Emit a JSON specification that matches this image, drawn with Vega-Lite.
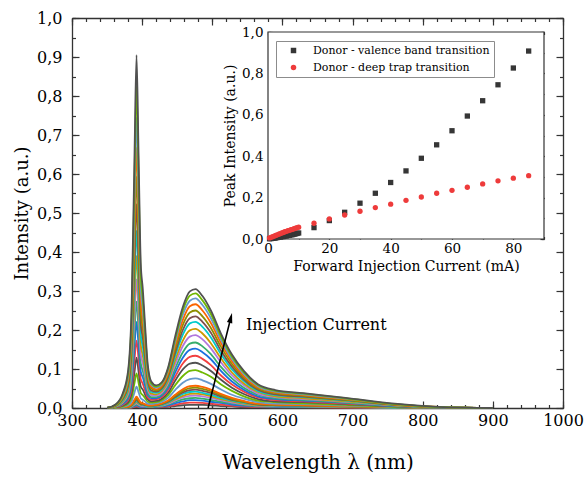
{
"$schema":"https://vega.github.io/schema/vega-lite/v6.json",
"width":491,"height":390,
"autosize":{"type":"none"},
"padding":{"left":72,"top":18,"right":21,"bottom":71},
"background":"white",
"config":{
"locale":{"number":{"decimal":",","thousands":".","grouping":[3],"currency":["",""]}},
"view":{"stroke":null},
"font":"DejaVu Serif",
"axis":{"grid":false,"domainColor":"#333333","tickColor":"#333333","labelColor":"#000000","titleColor":"#000000","labelFont":"DejaVu Serif","titleFont":"DejaVu Serif","titleFontWeight":"normal","zindex":1,"labelFlush":false,"labelOverlap":false,"domainWidth":1.3,"tickWidth":1.2},
"legend":{"labelFont":"DejaVu Serif","strokeColor":"#8c8c8c"}
},
"resolve":{"scale":{"x":"independent","y":"independent","color":"independent","shape":"independent"},"axis":{"x":"independent","y":"independent"},"legend":{"color":"independent","shape":"independent"}},
"datasets":{
"spec":[
{"c":1,"w":350,"v":0},{"c":1,"w":362,"v":0},{"c":1,"w":372,"v":0},{"c":1,"w":380,"v":0},{"c":1,"w":385,"v":0.001},{"c":1,"w":389,"v":0.002},{"c":1,"w":392,"v":0.002},{"c":1,"w":395,"v":0.002},{"c":1,"w":398,"v":0.001},{"c":1,"w":401,"v":0.001},{"c":1,"w":404,"v":0.001},{"c":1,"w":408,"v":0.001},{"c":1,"w":413,"v":0.001},{"c":1,"w":420,"v":0.001},{"c":1,"w":428,"v":0.002},{"c":1,"w":437,"v":0.003},{"c":1,"w":447,"v":0.005},{"c":1,"w":458,"v":0.007},{"c":1,"w":468,"v":0.008},{"c":1,"w":476,"v":0.008},{"c":1,"w":486,"v":0.008},{"c":1,"w":498,"v":0.007},{"c":1,"w":512,"v":0.005},{"c":1,"w":528,"v":0.004},{"c":1,"w":545,"v":0.002},{"c":1,"w":565,"v":0.002},{"c":1,"w":590,"v":0.001},{"c":1,"w":630,"v":0.001},{"c":1,"w":690,"v":0.001},{"c":1,"w":760,"v":0},{"c":1,"w":830,"v":0},{"c":1,"w":900,"v":0},
{"c":2,"w":350,"v":0},{"c":2,"w":362,"v":0},{"c":2,"w":372,"v":0},{"c":2,"w":380,"v":0.001},{"c":2,"w":385,"v":0.001},{"c":2,"w":389,"v":0.003},{"c":2,"w":392,"v":0.004},{"c":2,"w":395,"v":0.003},{"c":2,"w":398,"v":0.002},{"c":2,"w":401,"v":0.002},{"c":2,"w":404,"v":0.002},{"c":2,"w":408,"v":0.002},{"c":2,"w":413,"v":0.002},{"c":2,"w":420,"v":0.002},{"c":2,"w":428,"v":0.003},{"c":2,"w":437,"v":0.005},{"c":2,"w":447,"v":0.008},{"c":2,"w":458,"v":0.012},{"c":2,"w":468,"v":0.014},{"c":2,"w":476,"v":0.014},{"c":2,"w":486,"v":0.013},{"c":2,"w":498,"v":0.011},{"c":2,"w":512,"v":0.009},{"c":2,"w":528,"v":0.006},{"c":2,"w":545,"v":0.004},{"c":2,"w":565,"v":0.003},{"c":2,"w":590,"v":0.002},{"c":2,"w":630,"v":0.002},{"c":2,"w":690,"v":0.001},{"c":2,"w":760,"v":0},{"c":2,"w":830,"v":0},{"c":2,"w":900,"v":0},
{"c":3,"w":350,"v":0},{"c":3,"w":362,"v":0},{"c":3,"w":372,"v":0.001},{"c":3,"w":380,"v":0.001},{"c":3,"w":385,"v":0.002},{"c":3,"w":389,"v":0.005},{"c":3,"w":392,"v":0.007},{"c":3,"w":395,"v":0.005},{"c":3,"w":398,"v":0.003},{"c":3,"w":401,"v":0.003},{"c":3,"w":404,"v":0.003},{"c":3,"w":408,"v":0.002},{"c":3,"w":413,"v":0.002},{"c":3,"w":420,"v":0.003},{"c":3,"w":428,"v":0.004},{"c":3,"w":437,"v":0.007},{"c":3,"w":447,"v":0.012},{"c":3,"w":458,"v":0.017},{"c":3,"w":468,"v":0.02},{"c":3,"w":476,"v":0.02},{"c":3,"w":486,"v":0.019},{"c":3,"w":498,"v":0.016},{"c":3,"w":512,"v":0.013},{"c":3,"w":528,"v":0.009},{"c":3,"w":545,"v":0.006},{"c":3,"w":565,"v":0.004},{"c":3,"w":590,"v":0.003},{"c":3,"w":630,"v":0.003},{"c":3,"w":690,"v":0.002},{"c":3,"w":760,"v":0.001},{"c":3,"w":830,"v":0},{"c":3,"w":900,"v":0},
{"c":4,"w":350,"v":0},{"c":4,"w":362,"v":0},{"c":4,"w":372,"v":0.001},{"c":4,"w":380,"v":0.001},{"c":4,"w":385,"v":0.003},{"c":4,"w":389,"v":0.007},{"c":4,"w":392,"v":0.009},{"c":4,"w":395,"v":0.007},{"c":4,"w":398,"v":0.005},{"c":4,"w":401,"v":0.004},{"c":4,"w":404,"v":0.004},{"c":4,"w":408,"v":0.003},{"c":4,"w":413,"v":0.003},{"c":4,"w":420,"v":0.004},{"c":4,"w":428,"v":0.005},{"c":4,"w":437,"v":0.009},{"c":4,"w":447,"v":0.016},{"c":4,"w":458,"v":0.022},{"c":4,"w":468,"v":0.025},{"c":4,"w":476,"v":0.026},{"c":4,"w":486,"v":0.024},{"c":4,"w":498,"v":0.021},{"c":4,"w":512,"v":0.016},{"c":4,"w":528,"v":0.012},{"c":4,"w":545,"v":0.008},{"c":4,"w":565,"v":0.005},{"c":4,"w":590,"v":0.004},{"c":4,"w":630,"v":0.003},{"c":4,"w":690,"v":0.002},{"c":4,"w":760,"v":0.001},{"c":4,"w":830,"v":0},{"c":4,"w":900,"v":0},
{"c":5,"w":350,"v":0},{"c":5,"w":362,"v":0},{"c":5,"w":372,"v":0.001},{"c":5,"w":380,"v":0.002},{"c":5,"w":385,"v":0.004},{"c":5,"w":389,"v":0.009},{"c":5,"w":392,"v":0.012},{"c":5,"w":395,"v":0.009},{"c":5,"w":398,"v":0.006},{"c":5,"w":401,"v":0.005},{"c":5,"w":404,"v":0.005},{"c":5,"w":408,"v":0.004},{"c":5,"w":413,"v":0.004},{"c":5,"w":420,"v":0.005},{"c":5,"w":428,"v":0.006},{"c":5,"w":437,"v":0.011},{"c":5,"w":447,"v":0.019},{"c":5,"w":458,"v":0.027},{"c":5,"w":468,"v":0.031},{"c":5,"w":476,"v":0.032},{"c":5,"w":486,"v":0.03},{"c":5,"w":498,"v":0.026},{"c":5,"w":512,"v":0.02},{"c":5,"w":528,"v":0.014},{"c":5,"w":545,"v":0.01},{"c":5,"w":565,"v":0.006},{"c":5,"w":590,"v":0.005},{"c":5,"w":630,"v":0.004},{"c":5,"w":690,"v":0.003},{"c":5,"w":760,"v":0.001},{"c":5,"w":830,"v":0},{"c":5,"w":900,"v":0},
{"c":6,"w":350,"v":0},{"c":6,"w":362,"v":0},{"c":6,"w":372,"v":0.001},{"c":6,"w":380,"v":0.002},{"c":6,"w":385,"v":0.005},{"c":6,"w":389,"v":0.011},{"c":6,"w":392,"v":0.015},{"c":6,"w":395,"v":0.011},{"c":6,"w":398,"v":0.008},{"c":6,"w":401,"v":0.007},{"c":6,"w":404,"v":0.006},{"c":6,"w":408,"v":0.004},{"c":6,"w":413,"v":0.004},{"c":6,"w":420,"v":0.005},{"c":6,"w":428,"v":0.007},{"c":6,"w":437,"v":0.013},{"c":6,"w":447,"v":0.022},{"c":6,"w":458,"v":0.031},{"c":6,"w":468,"v":0.036},{"c":6,"w":476,"v":0.037},{"c":6,"w":486,"v":0.035},{"c":6,"w":498,"v":0.03},{"c":6,"w":512,"v":0.023},{"c":6,"w":528,"v":0.017},{"c":6,"w":545,"v":0.011},{"c":6,"w":565,"v":0.007},{"c":6,"w":590,"v":0.006},{"c":6,"w":630,"v":0.005},{"c":6,"w":690,"v":0.003},{"c":6,"w":760,"v":0.001},{"c":6,"w":830,"v":0},{"c":6,"w":900,"v":0},
{"c":7,"w":350,"v":0},{"c":7,"w":362,"v":0},{"c":7,"w":372,"v":0.001},{"c":7,"w":380,"v":0.003},{"c":7,"w":385,"v":0.006},{"c":7,"w":389,"v":0.013},{"c":7,"w":392,"v":0.018},{"c":7,"w":395,"v":0.013},{"c":7,"w":398,"v":0.009},{"c":7,"w":401,"v":0.008},{"c":7,"w":404,"v":0.006},{"c":7,"w":408,"v":0.005},{"c":7,"w":413,"v":0.005},{"c":7,"w":420,"v":0.006},{"c":7,"w":428,"v":0.008},{"c":7,"w":437,"v":0.014},{"c":7,"w":447,"v":0.025},{"c":7,"w":458,"v":0.036},{"c":7,"w":468,"v":0.041},{"c":7,"w":476,"v":0.042},{"c":7,"w":486,"v":0.039},{"c":7,"w":498,"v":0.034},{"c":7,"w":512,"v":0.026},{"c":7,"w":528,"v":0.019},{"c":7,"w":545,"v":0.013},{"c":7,"w":565,"v":0.008},{"c":7,"w":590,"v":0.006},{"c":7,"w":630,"v":0.005},{"c":7,"w":690,"v":0.004},{"c":7,"w":760,"v":0.001},{"c":7,"w":830,"v":0},{"c":7,"w":900,"v":0},
{"c":8,"w":350,"v":0},{"c":8,"w":362,"v":0.001},{"c":8,"w":372,"v":0.001},{"c":8,"w":380,"v":0.003},{"c":8,"w":385,"v":0.007},{"c":8,"w":389,"v":0.015},{"c":8,"w":392,"v":0.021},{"c":8,"w":395,"v":0.015},{"c":8,"w":398,"v":0.01},{"c":8,"w":401,"v":0.009},{"c":8,"w":404,"v":0.008},{"c":8,"w":408,"v":0.006},{"c":8,"w":413,"v":0.006},{"c":8,"w":420,"v":0.007},{"c":8,"w":428,"v":0.01},{"c":8,"w":437,"v":0.016},{"c":8,"w":447,"v":0.028},{"c":8,"w":458,"v":0.04},{"c":8,"w":468,"v":0.046},{"c":8,"w":476,"v":0.047},{"c":8,"w":486,"v":0.044},{"c":8,"w":498,"v":0.039},{"c":8,"w":512,"v":0.03},{"c":8,"w":528,"v":0.021},{"c":8,"w":545,"v":0.015},{"c":8,"w":565,"v":0.009},{"c":8,"w":590,"v":0.007},{"c":8,"w":630,"v":0.006},{"c":8,"w":690,"v":0.004},{"c":8,"w":760,"v":0.002},{"c":8,"w":830,"v":0},{"c":8,"w":900,"v":0},
{"c":9,"w":350,"v":0},{"c":9,"w":362,"v":0.001},{"c":9,"w":372,"v":0.002},{"c":9,"w":380,"v":0.003},{"c":9,"w":385,"v":0.008},{"c":9,"w":389,"v":0.018},{"c":9,"w":392,"v":0.025},{"c":9,"w":395,"v":0.018},{"c":9,"w":398,"v":0.012},{"c":9,"w":401,"v":0.011},{"c":9,"w":404,"v":0.009},{"c":9,"w":408,"v":0.007},{"c":9,"w":413,"v":0.006},{"c":9,"w":420,"v":0.008},{"c":9,"w":428,"v":0.011},{"c":9,"w":437,"v":0.018},{"c":9,"w":447,"v":0.031},{"c":9,"w":458,"v":0.044},{"c":9,"w":468,"v":0.051},{"c":9,"w":476,"v":0.052},{"c":9,"w":486,"v":0.049},{"c":9,"w":498,"v":0.043},{"c":9,"w":512,"v":0.033},{"c":9,"w":528,"v":0.023},{"c":9,"w":545,"v":0.016},{"c":9,"w":565,"v":0.01},{"c":9,"w":590,"v":0.008},{"c":9,"w":630,"v":0.007},{"c":9,"w":690,"v":0.004},{"c":9,"w":760,"v":0.002},{"c":9,"w":830,"v":0},{"c":9,"w":900,"v":0},
{"c":10,"w":350,"v":0},{"c":10,"w":362,"v":0.001},{"c":10,"w":372,"v":0.002},{"c":10,"w":380,"v":0.004},{"c":10,"w":385,"v":0.009},{"c":10,"w":389,"v":0.021},{"c":10,"w":392,"v":0.029},{"c":10,"w":395,"v":0.022},{"c":10,"w":398,"v":0.014},{"c":10,"w":401,"v":0.012},{"c":10,"w":404,"v":0.01},{"c":10,"w":408,"v":0.007},{"c":10,"w":413,"v":0.007},{"c":10,"w":420,"v":0.008},{"c":10,"w":428,"v":0.012},{"c":10,"w":437,"v":0.019},{"c":10,"w":447,"v":0.034},{"c":10,"w":458,"v":0.048},{"c":10,"w":468,"v":0.056},{"c":10,"w":476,"v":0.057},{"c":10,"w":486,"v":0.054},{"c":10,"w":498,"v":0.047},{"c":10,"w":512,"v":0.036},{"c":10,"w":528,"v":0.026},{"c":10,"w":545,"v":0.018},{"c":10,"w":565,"v":0.011},{"c":10,"w":590,"v":0.009},{"c":10,"w":630,"v":0.007},{"c":10,"w":690,"v":0.005},{"c":10,"w":760,"v":0.002},{"c":10,"w":830,"v":0},{"c":10,"w":900,"v":0},
{"c":15,"w":350,"v":0},{"c":15,"w":362,"v":0.001},{"c":15,"w":372,"v":0.003},{"c":15,"w":380,"v":0.007},{"c":15,"w":385,"v":0.017},{"c":15,"w":389,"v":0.039},{"c":15,"w":392,"v":0.055},{"c":15,"w":395,"v":0.04},{"c":15,"w":398,"v":0.025},{"c":15,"w":401,"v":0.021},{"c":15,"w":404,"v":0.017},{"c":15,"w":408,"v":0.011},{"c":15,"w":413,"v":0.01},{"c":15,"w":420,"v":0.012},{"c":15,"w":428,"v":0.016},{"c":15,"w":437,"v":0.026},{"c":15,"w":447,"v":0.046},{"c":15,"w":458,"v":0.065},{"c":15,"w":468,"v":0.074},{"c":15,"w":476,"v":0.076},{"c":15,"w":486,"v":0.071},{"c":15,"w":498,"v":0.062},{"c":15,"w":512,"v":0.048},{"c":15,"w":528,"v":0.034},{"c":15,"w":545,"v":0.024},{"c":15,"w":565,"v":0.015},{"c":15,"w":590,"v":0.011},{"c":15,"w":630,"v":0.01},{"c":15,"w":690,"v":0.006},{"c":15,"w":760,"v":0.003},{"c":15,"w":830,"v":0},{"c":15,"w":900,"v":0},
{"c":20,"w":350,"v":0},{"c":20,"w":362,"v":0.001},{"c":20,"w":372,"v":0.004},{"c":20,"w":380,"v":0.011},{"c":20,"w":385,"v":0.026},{"c":20,"w":389,"v":0.063},{"c":20,"w":392,"v":0.089},{"c":20,"w":395,"v":0.064},{"c":20,"w":398,"v":0.039},{"c":20,"w":401,"v":0.033},{"c":20,"w":404,"v":0.026},{"c":20,"w":408,"v":0.016},{"c":20,"w":413,"v":0.014},{"c":20,"w":420,"v":0.015},{"c":20,"w":428,"v":0.02},{"c":20,"w":437,"v":0.033},{"c":20,"w":447,"v":0.058},{"c":20,"w":458,"v":0.082},{"c":20,"w":468,"v":0.095},{"c":20,"w":476,"v":0.097},{"c":20,"w":486,"v":0.091},{"c":20,"w":498,"v":0.08},{"c":20,"w":512,"v":0.061},{"c":20,"w":528,"v":0.044},{"c":20,"w":545,"v":0.03},{"c":20,"w":565,"v":0.019},{"c":20,"w":590,"v":0.015},{"c":20,"w":630,"v":0.012},{"c":20,"w":690,"v":0.008},{"c":20,"w":760,"v":0.003},{"c":20,"w":830,"v":0.001},{"c":20,"w":900,"v":0},
{"c":25,"w":350,"v":0},{"c":25,"w":362,"v":0.002},{"c":25,"w":372,"v":0.006},{"c":25,"w":380,"v":0.015},{"c":25,"w":385,"v":0.038},{"c":25,"w":389,"v":0.091},{"c":25,"w":392,"v":0.129},{"c":25,"w":395,"v":0.092},{"c":25,"w":398,"v":0.055},{"c":25,"w":401,"v":0.047},{"c":25,"w":404,"v":0.035},{"c":25,"w":408,"v":0.022},{"c":25,"w":413,"v":0.017},{"c":25,"w":420,"v":0.018},{"c":25,"w":428,"v":0.024},{"c":25,"w":437,"v":0.039},{"c":25,"w":447,"v":0.07},{"c":25,"w":458,"v":0.099},{"c":25,"w":468,"v":0.114},{"c":25,"w":476,"v":0.116},{"c":25,"w":486,"v":0.109},{"c":25,"w":498,"v":0.095},{"c":25,"w":512,"v":0.073},{"c":25,"w":528,"v":0.052},{"c":25,"w":545,"v":0.036},{"c":25,"w":565,"v":0.023},{"c":25,"w":590,"v":0.017},{"c":25,"w":630,"v":0.015},{"c":25,"w":690,"v":0.01},{"c":25,"w":760,"v":0.004},{"c":25,"w":830,"v":0.001},{"c":25,"w":900,"v":0},
{"c":30,"w":350,"v":0},{"c":30,"w":362,"v":0.002},{"c":30,"w":372,"v":0.008},{"c":30,"w":380,"v":0.02},{"c":30,"w":385,"v":0.051},{"c":30,"w":389,"v":0.122},{"c":30,"w":392,"v":0.173},{"c":30,"w":395,"v":0.124},{"c":30,"w":398,"v":0.074},{"c":30,"w":401,"v":0.062},{"c":30,"w":404,"v":0.046},{"c":30,"w":408,"v":0.027},{"c":30,"w":413,"v":0.021},{"c":30,"w":420,"v":0.022},{"c":30,"w":428,"v":0.028},{"c":30,"w":437,"v":0.046},{"c":30,"w":447,"v":0.08},{"c":30,"w":458,"v":0.114},{"c":30,"w":468,"v":0.131},{"c":30,"w":476,"v":0.134},{"c":30,"w":486,"v":0.126},{"c":30,"w":498,"v":0.11},{"c":30,"w":512,"v":0.084},{"c":30,"w":528,"v":0.06},{"c":30,"w":545,"v":0.042},{"c":30,"w":565,"v":0.027},{"c":30,"w":590,"v":0.02},{"c":30,"w":630,"v":0.017},{"c":30,"w":690,"v":0.011},{"c":30,"w":760,"v":0.005},{"c":30,"w":830,"v":0.001},{"c":30,"w":900,"v":0},
{"c":35,"w":350,"v":0},{"c":35,"w":362,"v":0.003},{"c":35,"w":372,"v":0.01},{"c":35,"w":380,"v":0.025},{"c":35,"w":385,"v":0.064},{"c":35,"w":389,"v":0.156},{"c":35,"w":392,"v":0.221},{"c":35,"w":395,"v":0.157},{"c":35,"w":398,"v":0.094},{"c":35,"w":401,"v":0.078},{"c":35,"w":404,"v":0.058},{"c":35,"w":408,"v":0.033},{"c":35,"w":413,"v":0.025},{"c":35,"w":420,"v":0.025},{"c":35,"w":428,"v":0.032},{"c":35,"w":437,"v":0.052},{"c":35,"w":447,"v":0.091},{"c":35,"w":458,"v":0.129},{"c":35,"w":468,"v":0.149},{"c":35,"w":476,"v":0.152},{"c":35,"w":486,"v":0.143},{"c":35,"w":498,"v":0.125},{"c":35,"w":512,"v":0.096},{"c":35,"w":528,"v":0.068},{"c":35,"w":545,"v":0.047},{"c":35,"w":565,"v":0.03},{"c":35,"w":590,"v":0.023},{"c":35,"w":630,"v":0.019},{"c":35,"w":690,"v":0.013},{"c":35,"w":760,"v":0.005},{"c":35,"w":830,"v":0.001},{"c":35,"w":900,"v":0},
{"c":40,"w":350,"v":0},{"c":40,"w":362,"v":0.003},{"c":40,"w":372,"v":0.012},{"c":40,"w":380,"v":0.03},{"c":40,"w":385,"v":0.079},{"c":40,"w":389,"v":0.192},{"c":40,"w":392,"v":0.273},{"c":40,"w":395,"v":0.194},{"c":40,"w":398,"v":0.115},{"c":40,"w":401,"v":0.095},{"c":40,"w":404,"v":0.07},{"c":40,"w":408,"v":0.04},{"c":40,"w":413,"v":0.028},{"c":40,"w":420,"v":0.028},{"c":40,"w":428,"v":0.035},{"c":40,"w":437,"v":0.057},{"c":40,"w":447,"v":0.101},{"c":40,"w":458,"v":0.143},{"c":40,"w":468,"v":0.165},{"c":40,"w":476,"v":0.168},{"c":40,"w":486,"v":0.158},{"c":40,"w":498,"v":0.138},{"c":40,"w":512,"v":0.106},{"c":40,"w":528,"v":0.076},{"c":40,"w":545,"v":0.052},{"c":40,"w":565,"v":0.034},{"c":40,"w":590,"v":0.025},{"c":40,"w":630,"v":0.021},{"c":40,"w":690,"v":0.014},{"c":40,"w":760,"v":0.006},{"c":40,"w":830,"v":0.001},{"c":40,"w":900,"v":0},
{"c":45,"w":350,"v":0},{"c":45,"w":362,"v":0.004},{"c":45,"w":372,"v":0.014},{"c":45,"w":380,"v":0.036},{"c":45,"w":385,"v":0.095},{"c":45,"w":389,"v":0.232},{"c":45,"w":392,"v":0.33},{"c":45,"w":395,"v":0.234},{"c":45,"w":398,"v":0.138},{"c":45,"w":401,"v":0.114},{"c":45,"w":404,"v":0.084},{"c":45,"w":408,"v":0.047},{"c":45,"w":413,"v":0.033},{"c":45,"w":420,"v":0.032},{"c":45,"w":428,"v":0.039},{"c":45,"w":437,"v":0.064},{"c":45,"w":447,"v":0.112},{"c":45,"w":458,"v":0.159},{"c":45,"w":468,"v":0.183},{"c":45,"w":476,"v":0.187},{"c":45,"w":486,"v":0.176},{"c":45,"w":498,"v":0.153},{"c":45,"w":512,"v":0.118},{"c":45,"w":528,"v":0.084},{"c":45,"w":545,"v":0.058},{"c":45,"w":565,"v":0.037},{"c":45,"w":590,"v":0.028},{"c":45,"w":630,"v":0.023},{"c":45,"w":690,"v":0.016},{"c":45,"w":760,"v":0.007},{"c":45,"w":830,"v":0.001},{"c":45,"w":900,"v":0},
{"c":50,"w":350,"v":0},{"c":50,"w":362,"v":0.004},{"c":50,"w":372,"v":0.016},{"c":50,"w":380,"v":0.043},{"c":50,"w":385,"v":0.113},{"c":50,"w":389,"v":0.275},{"c":50,"w":392,"v":0.39},{"c":50,"w":395,"v":0.277},{"c":50,"w":398,"v":0.163},{"c":50,"w":401,"v":0.134},{"c":50,"w":404,"v":0.098},{"c":50,"w":408,"v":0.054},{"c":50,"w":413,"v":0.037},{"c":50,"w":420,"v":0.035},{"c":50,"w":428,"v":0.043},{"c":50,"w":437,"v":0.069},{"c":50,"w":447,"v":0.122},{"c":50,"w":458,"v":0.173},{"c":50,"w":468,"v":0.199},{"c":50,"w":476,"v":0.203},{"c":50,"w":486,"v":0.191},{"c":50,"w":498,"v":0.166},{"c":50,"w":512,"v":0.128},{"c":50,"w":528,"v":0.091},{"c":50,"w":545,"v":0.063},{"c":50,"w":565,"v":0.041},{"c":50,"w":590,"v":0.03},{"c":50,"w":630,"v":0.025},{"c":50,"w":690,"v":0.017},{"c":50,"w":760,"v":0.007},{"c":50,"w":830,"v":0.001},{"c":50,"w":900,"v":0},
{"c":55,"w":350,"v":0},{"c":55,"w":362,"v":0.005},{"c":55,"w":372,"v":0.019},{"c":55,"w":380,"v":0.05},{"c":55,"w":385,"v":0.131},{"c":55,"w":389,"v":0.32},{"c":55,"w":392,"v":0.455},{"c":55,"w":395,"v":0.322},{"c":55,"w":398,"v":0.189},{"c":55,"w":401,"v":0.156},{"c":55,"w":404,"v":0.114},{"c":55,"w":408,"v":0.061},{"c":55,"w":413,"v":0.041},{"c":55,"w":420,"v":0.039},{"c":55,"w":428,"v":0.047},{"c":55,"w":437,"v":0.075},{"c":55,"w":447,"v":0.133},{"c":55,"w":458,"v":0.188},{"c":55,"w":468,"v":0.217},{"c":55,"w":476,"v":0.221},{"c":55,"w":486,"v":0.208},{"c":55,"w":498,"v":0.181},{"c":55,"w":512,"v":0.139},{"c":55,"w":528,"v":0.099},{"c":55,"w":545,"v":0.069},{"c":55,"w":565,"v":0.044},{"c":55,"w":590,"v":0.033},{"c":55,"w":630,"v":0.028},{"c":55,"w":690,"v":0.019},{"c":55,"w":760,"v":0.008},{"c":55,"w":830,"v":0.001},{"c":55,"w":900,"v":0},
{"c":60,"w":350,"v":0},{"c":60,"w":362,"v":0.006},{"c":60,"w":372,"v":0.022},{"c":60,"w":380,"v":0.057},{"c":60,"w":385,"v":0.151},{"c":60,"w":389,"v":0.368},{"c":60,"w":392,"v":0.523},{"c":60,"w":395,"v":0.37},{"c":60,"w":398,"v":0.217},{"c":60,"w":401,"v":0.179},{"c":60,"w":404,"v":0.13},{"c":60,"w":408,"v":0.069},{"c":60,"w":413,"v":0.045},{"c":60,"w":420,"v":0.042},{"c":60,"w":428,"v":0.05},{"c":60,"w":437,"v":0.08},{"c":60,"w":447,"v":0.141},{"c":60,"w":458,"v":0.2},{"c":60,"w":468,"v":0.23},{"c":60,"w":476,"v":0.235},{"c":60,"w":486,"v":0.221},{"c":60,"w":498,"v":0.193},{"c":60,"w":512,"v":0.148},{"c":60,"w":528,"v":0.106},{"c":60,"w":545,"v":0.073},{"c":60,"w":565,"v":0.047},{"c":60,"w":590,"v":0.035},{"c":60,"w":630,"v":0.029},{"c":60,"w":690,"v":0.02},{"c":60,"w":760,"v":0.008},{"c":60,"w":830,"v":0.001},{"c":60,"w":900,"v":0},
{"c":65,"w":350,"v":0},{"c":65,"w":362,"v":0.006},{"c":65,"w":372,"v":0.024},{"c":65,"w":380,"v":0.064},{"c":65,"w":385,"v":0.171},{"c":65,"w":389,"v":0.418},{"c":65,"w":392,"v":0.594},{"c":65,"w":395,"v":0.42},{"c":65,"w":398,"v":0.246},{"c":65,"w":401,"v":0.202},{"c":65,"w":404,"v":0.146},{"c":65,"w":408,"v":0.077},{"c":65,"w":413,"v":0.05},{"c":65,"w":420,"v":0.045},{"c":65,"w":428,"v":0.054},{"c":65,"w":437,"v":0.085},{"c":65,"w":447,"v":0.15},{"c":65,"w":458,"v":0.213},{"c":65,"w":468,"v":0.245},{"c":65,"w":476,"v":0.25},{"c":65,"w":486,"v":0.235},{"c":65,"w":498,"v":0.205},{"c":65,"w":512,"v":0.158},{"c":65,"w":528,"v":0.113},{"c":65,"w":545,"v":0.078},{"c":65,"w":565,"v":0.05},{"c":65,"w":590,"v":0.038},{"c":65,"w":630,"v":0.031},{"c":65,"w":690,"v":0.021},{"c":65,"w":760,"v":0.009},{"c":65,"w":830,"v":0.002},{"c":65,"w":900,"v":0},
{"c":70,"w":350,"v":0},{"c":70,"w":362,"v":0.007},{"c":70,"w":372,"v":0.027},{"c":70,"w":380,"v":0.072},{"c":70,"w":385,"v":0.191},{"c":70,"w":389,"v":0.469},{"c":70,"w":392,"v":0.668},{"c":70,"w":395,"v":0.472},{"c":70,"w":398,"v":0.276},{"c":70,"w":401,"v":0.226},{"c":70,"w":404,"v":0.163},{"c":70,"w":408,"v":0.085},{"c":70,"w":413,"v":0.054},{"c":70,"w":420,"v":0.048},{"c":70,"w":428,"v":0.057},{"c":70,"w":437,"v":0.09},{"c":70,"w":447,"v":0.16},{"c":70,"w":458,"v":0.226},{"c":70,"w":468,"v":0.261},{"c":70,"w":476,"v":0.266},{"c":70,"w":486,"v":0.25},{"c":70,"w":498,"v":0.218},{"c":70,"w":512,"v":0.168},{"c":70,"w":528,"v":0.12},{"c":70,"w":545,"v":0.082},{"c":70,"w":565,"v":0.053},{"c":70,"w":590,"v":0.04},{"c":70,"w":630,"v":0.033},{"c":70,"w":690,"v":0.023},{"c":70,"w":760,"v":0.009},{"c":70,"w":830,"v":0.002},{"c":70,"w":900,"v":0},
{"c":75,"w":350,"v":0},{"c":75,"w":362,"v":0.008},{"c":75,"w":372,"v":0.03},{"c":75,"w":380,"v":0.08},{"c":75,"w":385,"v":0.213},{"c":75,"w":389,"v":0.524},{"c":75,"w":392,"v":0.745},{"c":75,"w":395,"v":0.526},{"c":75,"w":398,"v":0.308},{"c":75,"w":401,"v":0.252},{"c":75,"w":404,"v":0.181},{"c":75,"w":408,"v":0.094},{"c":75,"w":413,"v":0.059},{"c":75,"w":420,"v":0.052},{"c":75,"w":428,"v":0.061},{"c":75,"w":437,"v":0.096},{"c":75,"w":447,"v":0.169},{"c":75,"w":458,"v":0.239},{"c":75,"w":468,"v":0.275},{"c":75,"w":476,"v":0.281},{"c":75,"w":486,"v":0.264},{"c":75,"w":498,"v":0.23},{"c":75,"w":512,"v":0.177},{"c":75,"w":528,"v":0.126},{"c":75,"w":545,"v":0.087},{"c":75,"w":565,"v":0.056},{"c":75,"w":590,"v":0.042},{"c":75,"w":630,"v":0.035},{"c":75,"w":690,"v":0.024},{"c":75,"w":760,"v":0.01},{"c":75,"w":830,"v":0.002},{"c":75,"w":900,"v":0},
{"c":80,"w":350,"v":0},{"c":80,"w":362,"v":0.008},{"c":80,"w":372,"v":0.033},{"c":80,"w":380,"v":0.088},{"c":80,"w":385,"v":0.236},{"c":80,"w":389,"v":0.58},{"c":80,"w":392,"v":0.826},{"c":80,"w":395,"v":0.583},{"c":80,"w":398,"v":0.34},{"c":80,"w":401,"v":0.278},{"c":80,"w":404,"v":0.2},{"c":80,"w":408,"v":0.102},{"c":80,"w":413,"v":0.063},{"c":80,"w":420,"v":0.055},{"c":80,"w":428,"v":0.064},{"c":80,"w":437,"v":0.1},{"c":80,"w":447,"v":0.176},{"c":80,"w":458,"v":0.25},{"c":80,"w":468,"v":0.288},{"c":80,"w":476,"v":0.294},{"c":80,"w":486,"v":0.276},{"c":80,"w":498,"v":0.241},{"c":80,"w":512,"v":0.185},{"c":80,"w":528,"v":0.132},{"c":80,"w":545,"v":0.091},{"c":80,"w":565,"v":0.059},{"c":80,"w":590,"v":0.044},{"c":80,"w":630,"v":0.037},{"c":80,"w":690,"v":0.025},{"c":80,"w":760,"v":0.01},{"c":80,"w":830,"v":0.002},{"c":80,"w":900,"v":0},
{"c":85,"w":350,"v":0},{"c":85,"w":362,"v":0.009},{"c":85,"w":372,"v":0.036},{"c":85,"w":380,"v":0.096},{"c":85,"w":385,"v":0.259},{"c":85,"w":389,"v":0.636},{"c":85,"w":392,"v":0.905},{"c":85,"w":395,"v":0.639},{"c":85,"w":398,"v":0.372},{"c":85,"w":401,"v":0.304},{"c":85,"w":404,"v":0.218},{"c":85,"w":408,"v":0.111},{"c":85,"w":413,"v":0.068},{"c":85,"w":420,"v":0.058},{"c":85,"w":428,"v":0.066},{"c":85,"w":437,"v":0.104},{"c":85,"w":447,"v":0.183},{"c":85,"w":458,"v":0.259},{"c":85,"w":468,"v":0.299},{"c":85,"w":476,"v":0.305},{"c":85,"w":486,"v":0.287},{"c":85,"w":498,"v":0.25},{"c":85,"w":512,"v":0.192},{"c":85,"w":528,"v":0.137},{"c":85,"w":545,"v":0.095},{"c":85,"w":565,"v":0.061},{"c":85,"w":590,"v":0.046},{"c":85,"w":630,"v":0.038},{"c":85,"w":690,"v":0.026},{"c":85,"w":760,"v":0.011},{"c":85,"w":830,"v":0.002},{"c":85,"w":900,"v":0}
],
"peak":[
{"i":0.5,"p":0.001,"s":"Donor - valence band transition"},{"i":1,"p":0.002,"s":"Donor - valence band transition"},{"i":1.5,"p":0.003,"s":"Donor - valence band transition"},{"i":2,"p":0.004,"s":"Donor - valence band transition"},{"i":2.5,"p":0.005,"s":"Donor - valence band transition"},{"i":3,"p":0.007,"s":"Donor - valence band transition"},{"i":3.5,"p":0.008,"s":"Donor - valence band transition"},{"i":4,"p":0.009,"s":"Donor - valence band transition"},{"i":4.5,"p":0.011,"s":"Donor - valence band transition"},{"i":5,"p":0.012,"s":"Donor - valence band transition"},{"i":5.5,"p":0.014,"s":"Donor - valence band transition"},{"i":6,"p":0.015,"s":"Donor - valence band transition"},{"i":6.5,"p":0.017,"s":"Donor - valence band transition"},{"i":7,"p":0.018,"s":"Donor - valence band transition"},{"i":7.5,"p":0.02,"s":"Donor - valence band transition"},{"i":8,"p":0.021,"s":"Donor - valence band transition"},{"i":8.5,"p":0.023,"s":"Donor - valence band transition"},{"i":9,"p":0.025,"s":"Donor - valence band transition"},{"i":9.5,"p":0.027,"s":"Donor - valence band transition"},{"i":10,"p":0.029,"s":"Donor - valence band transition"},{"i":15,"p":0.055,"s":"Donor - valence band transition"},{"i":20,"p":0.089,"s":"Donor - valence band transition"},{"i":25,"p":0.129,"s":"Donor - valence band transition"},{"i":30,"p":0.173,"s":"Donor - valence band transition"},{"i":35,"p":0.221,"s":"Donor - valence band transition"},{"i":40,"p":0.273,"s":"Donor - valence band transition"},{"i":45,"p":0.329,"s":"Donor - valence band transition"},{"i":50,"p":0.39,"s":"Donor - valence band transition"},{"i":55,"p":0.455,"s":"Donor - valence band transition"},{"i":60,"p":0.523,"s":"Donor - valence band transition"},{"i":65,"p":0.594,"s":"Donor - valence band transition"},{"i":70,"p":0.668,"s":"Donor - valence band transition"},{"i":75,"p":0.745,"s":"Donor - valence band transition"},{"i":80,"p":0.826,"s":"Donor - valence band transition"},{"i":85,"p":0.908,"s":"Donor - valence band transition"},
{"i":0.5,"p":0.005,"s":"Donor - deep trap transition"},{"i":1,"p":0.008,"s":"Donor - deep trap transition"},{"i":1.5,"p":0.011,"s":"Donor - deep trap transition"},{"i":2,"p":0.014,"s":"Donor - deep trap transition"},{"i":2.5,"p":0.017,"s":"Donor - deep trap transition"},{"i":3,"p":0.02,"s":"Donor - deep trap transition"},{"i":3.5,"p":0.023,"s":"Donor - deep trap transition"},{"i":4,"p":0.026,"s":"Donor - deep trap transition"},{"i":4.5,"p":0.029,"s":"Donor - deep trap transition"},{"i":5,"p":0.032,"s":"Donor - deep trap transition"},{"i":5.5,"p":0.035,"s":"Donor - deep trap transition"},{"i":6,"p":0.037,"s":"Donor - deep trap transition"},{"i":6.5,"p":0.04,"s":"Donor - deep trap transition"},{"i":7,"p":0.042,"s":"Donor - deep trap transition"},{"i":7.5,"p":0.045,"s":"Donor - deep trap transition"},{"i":8,"p":0.047,"s":"Donor - deep trap transition"},{"i":8.5,"p":0.05,"s":"Donor - deep trap transition"},{"i":9,"p":0.052,"s":"Donor - deep trap transition"},{"i":9.5,"p":0.055,"s":"Donor - deep trap transition"},{"i":10,"p":0.057,"s":"Donor - deep trap transition"},{"i":15,"p":0.076,"s":"Donor - deep trap transition"},{"i":20,"p":0.097,"s":"Donor - deep trap transition"},{"i":25,"p":0.116,"s":"Donor - deep trap transition"},{"i":30,"p":0.134,"s":"Donor - deep trap transition"},{"i":35,"p":0.152,"s":"Donor - deep trap transition"},{"i":40,"p":0.168,"s":"Donor - deep trap transition"},{"i":45,"p":0.187,"s":"Donor - deep trap transition"},{"i":50,"p":0.203,"s":"Donor - deep trap transition"},{"i":55,"p":0.221,"s":"Donor - deep trap transition"},{"i":60,"p":0.235,"s":"Donor - deep trap transition"},{"i":65,"p":0.25,"s":"Donor - deep trap transition"},{"i":70,"p":0.266,"s":"Donor - deep trap transition"},{"i":75,"p":0.281,"s":"Donor - deep trap transition"},{"i":80,"p":0.294,"s":"Donor - deep trap transition"},{"i":85,"p":0.306,"s":"Donor - deep trap transition"}
]
},
"layer":[
{"data":{"name":"spec"},
"mark":{"type":"line","interpolate":"monotone","strokeWidth":1.8},
"encoding":{
"x":{"field":"w","type":"quantitative","scale":{"domain":[300,1000],"nice":false,"zero":false},"axis":{"orient":"bottom","values":[300,400,500,600,700,800,900,1000],"format":"d","tickSize":-7,"labelPadding":11,"labelFontSize":16,"title":"Wavelength λ (nm)","titleFontSize":20,"titlePadding":24}},
"y":{"field":"v","type":"quantitative","scale":{"domain":[0,1],"nice":false,"zero":false},"axis":{"orient":"left","values":[0,0.1,0.2,0.3,0.4,0.5,0.6,0.7,0.8,0.9,1],"format":".1f","tickSize":-7,"labelPadding":17,"labelFontSize":16,"title":"Intensity (a.u.)","titleFontSize":18,"titlePadding":5}},
"color":{"field":"c","type":"ordinal","scale":{"domain":[1,2,3,4,5,6,7,8,9,10,15,20,25,30,35,40,45,50,55,60,65,70,75,80,85],"range":["#515151","#F14040","#1A6FDF","#37AD6B","#B177DE","#CC9900","#00CBCC","#7D4E4E","#8E8E00","#FB6501","#6699CC","#6FB802","#515151","#F14040","#1A6FDF","#37AD6B","#B177DE","#CC9900","#00CBCC","#7D4E4E","#8E8E00","#FB6501","#6699CC","#6FB802","#515151"]},"legend":null}
}},
{"data":{"values":[{}]},"mark":{"type":"point","opacity":0},
"encoding":{
"x":{"datum":300,"type":"quantitative","scale":{"domain":[300,1000],"nice":false,"zero":false},"axis":{"orient":"bottom","values":[300,320,340,360,380,400,420,440,460,480,500,520,540,560,580,600,620,640,660,680,700,720,740,760,780,800,820,840,860,880,900,920,940,960,980,1000],"labels":false,"domain":false,"tickSize":-3.5,"title":null}},
"y":{"datum":0,"type":"quantitative","scale":{"domain":[0,1],"nice":false,"zero":false},"axis":{"orient":"left","values":[0,0.05,0.1,0.15,0.2,0.25,0.3,0.35,0.4,0.45,0.5,0.55,0.6,0.65,0.7,0.75,0.8,0.85,0.9,0.95,1],"labels":false,"domain":false,"tickSize":-3.5,"title":null}}
}},
{"data":{"values":[{}]},"mark":{"type":"point","opacity":0},
"encoding":{
"x":{"datum":300,"type":"quantitative","scale":{"domain":[300,1000],"nice":false,"zero":false},"axis":{"orient":"top","values":[300,400,500,600,700,800,900,1000],"labels":false,"tickSize":-7,"title":null}},
"y":{"datum":0,"type":"quantitative","scale":{"domain":[0,1],"nice":false,"zero":false},"axis":{"orient":"right","values":[0,0.1,0.2,0.3,0.4,0.5,0.6,0.7,0.8,0.9,1],"labels":false,"tickSize":-7,"title":null}}
}},
{"data":{"values":[{}]},"mark":{"type":"point","opacity":0},
"encoding":{
"x":{"datum":300,"type":"quantitative","scale":{"domain":[300,1000],"nice":false,"zero":false},"axis":{"orient":"top","values":[300,320,340,360,380,400,420,440,460,480,500,520,540,560,580,600,620,640,660,680,700,720,740,760,780,800,820,840,860,880,900,920,940,960,980,1000],"labels":false,"domain":false,"tickSize":-3.5,"title":null}},
"y":{"datum":0,"type":"quantitative","scale":{"domain":[0,1],"nice":false,"zero":false},"axis":{"orient":"right","values":[0,0.05,0.1,0.15,0.2,0.25,0.3,0.35,0.4,0.45,0.5,0.55,0.6,0.65,0.7,0.75,0.8,0.85,0.9,0.95,1],"labels":false,"domain":false,"tickSize":-3.5,"title":null}}
}},
{"data":{"values":[{}]},"mark":{"type":"rule","color":"#000000","strokeWidth":1.6},
"encoding":{
"x":{"datum":494,"type":"quantitative","scale":{"domain":[300,1000],"nice":false,"zero":false},"axis":null},
"x2":{"datum":526.4},
"y":{"datum":0,"type":"quantitative","scale":{"domain":[0,1],"nice":false,"zero":false},"axis":null},
"y2":{"datum":0.231}
}},
{"data":{"values":[{}]},"mark":{"type":"point","filled":true,"color":"#000000","opacity":1,"size":100,"angle":14,"shape":"M-0.55,1L0,-1L0.55,1Z"},
"encoding":{
"x":{"datum":526.4,"type":"quantitative","scale":{"domain":[300,1000],"nice":false,"zero":false},"axis":null},
"y":{"datum":0.231,"type":"quantitative","scale":{"domain":[0,1],"nice":false,"zero":false},"axis":null}
}},
{"data":{"values":[{"t":"Injection Current"}]},"mark":{"type":"text","font":"DejaVu Serif","fontSize":16,"align":"left","baseline":"alphabetic","color":"#000000"},
"encoding":{
"x":{"datum":548,"type":"quantitative","scale":{"domain":[300,1000],"nice":false,"zero":false},"axis":null},
"y":{"datum":0.2,"type":"quantitative","scale":{"domain":[0,1],"nice":false,"zero":false},"axis":null},
"text":{"field":"t"}
}},
{"data":{"values":[{}]},"mark":{"type":"rect","fill":"#ffffff","stroke":"#333333","strokeWidth":1.2},
"encoding":{
"x":{"datum":0,"type":"quantitative","scale":{"domain":[0,90],"range":[196,472],"nice":false,"zero":false},"axis":{"orient":"bottom","offset":-169,"values":[0,20,40,60,80],"format":"d","tickSize":-4,"labelPadding":6,"labelFontSize":13.5,"domain":false,"title":"Forward Injection Current (mA)","titleFontSize":14,"titlePadding":5}},
"x2":{"datum":90},
"y":{"datum":0,"type":"quantitative","scale":{"domain":[0,1],"range":[221,14],"nice":false,"zero":false},"axis":{"orient":"left","offset":-196,"values":[0,0.2,0.4,0.6,0.8,1],"format":".1f","tickSize":-4,"labelPadding":9,"labelFontSize":13.5,"domain":false,"title":"Peak Intensity (a.u.)","titleFontSize":14,"titlePadding":4}},
"y2":{"datum":1}
}},
{"data":{"values":[{}]},"mark":{"type":"point","opacity":0},
"encoding":{
"x":{"datum":0,"type":"quantitative","scale":{"domain":[0,90],"range":[196,472],"nice":false,"zero":false},"axis":{"orient":"bottom","offset":-169,"values":[0,10,20,30,40,50,60,70,80,90],"labels":false,"domain":false,"tickSize":-2.5,"title":null}},
"y":{"datum":0,"type":"quantitative","scale":{"domain":[0,1],"range":[221,14],"nice":false,"zero":false},"axis":{"orient":"left","offset":-196,"values":[0,0.1,0.2,0.3,0.4,0.5,0.6,0.7,0.8,0.9,1],"labels":false,"domain":false,"tickSize":-2.5,"title":null}}
}},
{"data":{"values":[{}]},"mark":{"type":"point","opacity":0},
"encoding":{
"x":{"datum":0,"type":"quantitative","scale":{"domain":[0,90],"range":[196,472],"nice":false,"zero":false},"axis":{"orient":"top","offset":-14,"values":[0,20,40,60,80],"labels":false,"domain":false,"tickSize":-4,"title":null}},
"y":{"datum":0,"type":"quantitative","scale":{"domain":[0,1],"range":[221,14],"nice":false,"zero":false},"axis":{"orient":"right","offset":-19,"values":[0,0.2,0.4,0.6,0.8,1],"labels":false,"domain":false,"tickSize":-4,"title":null}}
}},
{"data":{"values":[{}]},"mark":{"type":"point","opacity":0},
"encoding":{
"x":{"datum":0,"type":"quantitative","scale":{"domain":[0,90],"range":[196,472],"nice":false,"zero":false},"axis":{"orient":"top","offset":-14,"values":[0,10,20,30,40,50,60,70,80,90],"labels":false,"domain":false,"tickSize":-2.5,"title":null}},
"y":{"datum":0,"type":"quantitative","scale":{"domain":[0,1],"range":[221,14],"nice":false,"zero":false},"axis":{"orient":"right","offset":-19,"values":[0,0.1,0.2,0.3,0.4,0.5,0.6,0.7,0.8,0.9,1],"labels":false,"domain":false,"tickSize":-2.5,"title":null}}
}},
{"data":{"name":"peak"},"mark":{"type":"point","filled":true,"opacity":1,"size":28},
"encoding":{
"x":{"field":"i","type":"quantitative","scale":{"domain":[0,90],"range":[196,472],"nice":false,"zero":false},"axis":null},
"y":{"field":"p","type":"quantitative","scale":{"domain":[0,1],"range":[221,14],"nice":false,"zero":false},"axis":null},
"color":{"field":"s","type":"nominal","scale":{"domain":["Donor - valence band transition","Donor - deep trap transition"],"range":["#363636","#EE3B3B"]},"legend":{"orient":"none","legendX":204,"legendY":23,"title":null,"padding":4,"strokeColor":"#8c8c8c","fillColor":"#ffffff","labelFontSize":11,"labelColor":"#000000","labelLimit":400,"symbolSize":30,"labelOffset":14,"rowPadding":5,"symbolOffset":8}},
"shape":{"field":"s","type":"nominal","scale":{"domain":["Donor - valence band transition","Donor - deep trap transition"],"range":["square","circle"]}}
}}
]
}
